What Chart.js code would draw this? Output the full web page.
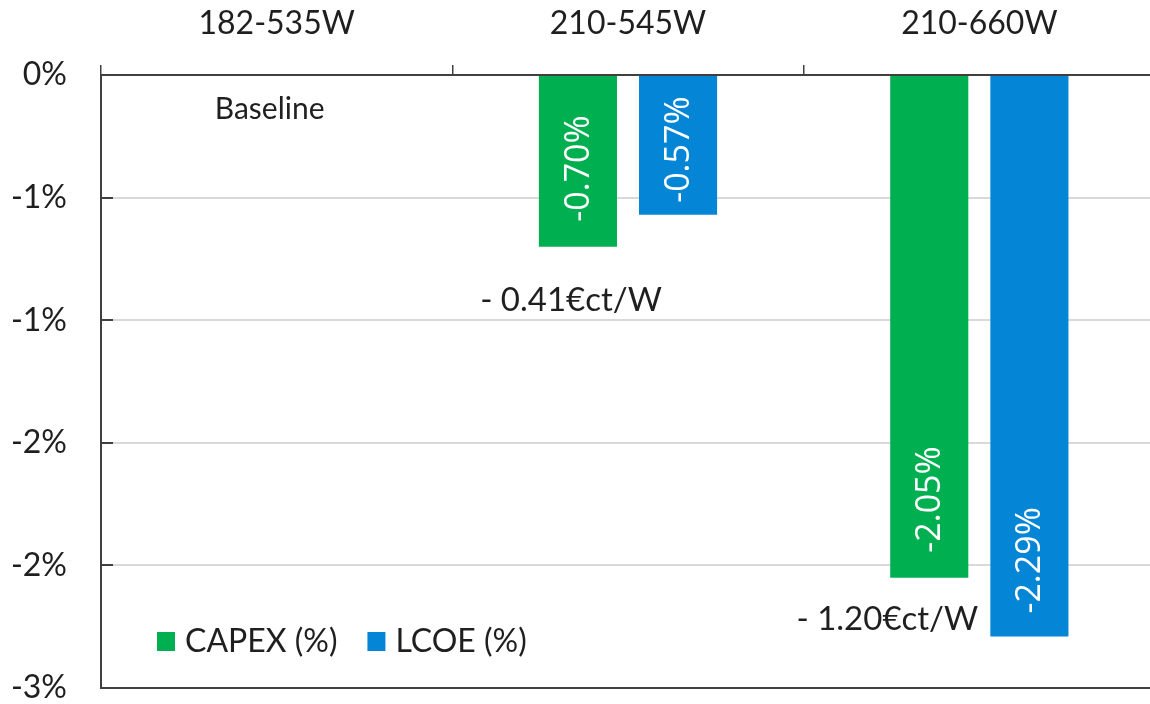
<!DOCTYPE html>
<html>
<head>
<meta charset="utf-8">
<script src="https://cdn.jsdelivr.net/npm/chart.js@4.4.1/dist/chart.umd.min.js"></script>
<style>
  html, body { margin: 0; padding: 0; background: #ffffff; overflow: hidden; }
  #wrap { width: 1156px; height: 704px; position: relative; }
</style>
</head>
<body>
<div id="wrap"><canvas id="c" width="1156" height="704"></canvas></div>
<script>
// Module formats compared against the 182-535W baseline
const categories = ['182-535W', '210-545W', '210-660W'];
const seriesNames = ['CAPEX (%)', 'LCOE (%)'];
const capexPct = [0, -0.70, -2.05];
const lcoePct = [0, -0.57, -2.29];

// Value axis: half-percent steps, labels rounded to whole percent
const yTickValues = [0, -0.5, -1, -1.5, -2, -2.5];
const yTickLabels = ['0%', '-1%', '-1%', '-2%', '-2%', '-3%'];

// Free-standing notes on the plot
const noteTexts = ['Baseline', '- 0.41\u20acct/W', '- 1.20\u20acct/W'];

const GREEN = '#00AF50';
const BLUE = '#0585D6';
const TEXT = '#1f1f1f';
const AXIS = '#404040';
const GRID = '#D9D9D9';
const FONT = 'Lato, Carlito, "Liberation Sans", sans-serif';
const LABEL_FONT = '"Open Sans", "Noto Sans", sans-serif';

// Rotated white value labels placed near the bar ends
const barValueLabels = {
  id: 'barValueLabels',
  afterDatasetsDraw(chart, args, opts) {
    const ctx = chart.ctx;
    chart.data.datasets.forEach((ds, di) => {
      const meta = chart.getDatasetMeta(di);
      meta.data.forEach((bar, i) => {
        const v = ds.data[i];
        if (!v) return;
        const gap = opts.gaps[di][i];
        ctx.save();
        ctx.translate(bar.x, bar.y - gap);
        ctx.rotate(-Math.PI / 2);
        ctx.font = opts.size + 'px ' + LABEL_FONT;
        ctx.fillStyle = '#ffffff';
        ctx.textAlign = 'left';
        ctx.textBaseline = 'middle';
        ctx.fillText(v.toFixed(2) + '%', 0, 1);
        ctx.restore();
      });
    });
  }
};

// Short inward tick marks on the value axis
const innerTicks = {
  id: 'innerTicks',
  afterDraw(chart) {
    const y = chart.scales.y;
    const left = chart.chartArea.left;
    const ctx = chart.ctx;
    ctx.save();
    ctx.strokeStyle = AXIS;
    ctx.lineWidth = 2;
    y.ticks.forEach(t => {
      const py = Math.round(y.getPixelForValue(t.value));
      ctx.beginPath();
      ctx.moveTo(left, py);
      ctx.lineTo(left + 12, py);
      ctx.stroke();
    });
    ctx.restore();
  }
};

// Text notes anchored to a category and a value
const plotNotes = {
  id: 'plotNotes',
  afterDraw(chart, args, opts) {
    const ctx = chart.ctx;
    const xs = chart.scales.x, ys = chart.scales.y;
    ctx.save();
    ctx.fillStyle = TEXT;
    ctx.textAlign = 'center';
    ctx.textBaseline = 'middle';
    opts.items.forEach(n => {
      ctx.font = n.size + 'px ' + FONT;
      ctx.fillText(n.text, xs.getPixelForValue(n.index) + n.dx, ys.getPixelForValue(n.value));
    });
    ctx.restore();
  }
};

// Legend drawn inside the lower left of the plot
const insideLegend = {
  id: 'insideLegend',
  afterDraw(chart, args, opts) {
    const ctx = chart.ctx;
    const area = chart.chartArea;
    let x = area.left + opts.dx;
    const cy = area.bottom - opts.dy;
    ctx.save();
    ctx.font = opts.size + 'px ' + FONT;
    ctx.textBaseline = 'middle';
    ctx.textAlign = 'left';
    chart.data.datasets.forEach(ds => {
      ctx.fillStyle = ds.backgroundColor;
      ctx.fillRect(x, cy - 9, 18, 19);
      x += 28;
      ctx.fillStyle = TEXT;
      ctx.fillText(ds.label, x, cy + 1);
      x += ctx.measureText(ds.label).width + 30;
    });
    ctx.restore();
  }
};

function draw() {
  new Chart(document.getElementById('c'), {
    type: 'bar',
    data: {
      labels: categories,
      datasets: [
        { label: seriesNames[0], data: capexPct, backgroundColor: GREEN },
        { label: seriesNames[1], data: lcoePct, backgroundColor: BLUE }
      ]
    },
    options: {
      responsive: false,
      animation: false,
      devicePixelRatio: 1,
      layout: { padding: { left: 0, right: 1, top: 0, bottom: 16 } },
      categoryPercentage: 0.57,
      barPercentage: 0.78,
      plugins: {
        legend: { display: false },
        tooltip: { enabled: false },
        barValueLabels: { size: 34, gaps: [[0, 25, 25], [0, 12, 23]] },
        insideLegend: { size: 32, dx: 56, dy: 47 },
        plotNotes: {
          items: [
            { text: noteTexts[0], index: 0, value: -0.14, dx: -7, size: 30 },
            { text: noteTexts[1], index: 1, value: -0.92, dx: -57, size: 33 },
            { text: noteTexts[2], index: 2, value: -2.22, dx: -92, size: 33 }
          ]
        }
      },
      scales: {
        x: {
          position: 'top',
          offset: true,
          afterFit(scale) { scale.height = 75; },
          grid: {
            offset: true,
            drawOnChartArea: false,
            drawTicks: true,
            tickLength: 10,
            color: AXIS,
            lineWidth: 1.5
          },
          border: { display: true, color: AXIS, width: 2 },
          ticks: { color: TEXT, font: { family: FONT, size: 32 }, padding: 22 }
        },
        y: {
          min: -2.5,
          max: 0,
          afterFit(scale) { scale.width = 101; },
          afterBuildTicks(scale) { scale.ticks = yTickValues.map(v => ({ value: v })); },
          grid: {
            drawTicks: true,
            tickLength: 34,
            tickColor: 'rgba(0,0,0,0)',
            color: ctx => (ctx.tick && ctx.tick.value === -2.5) ? AXIS : GRID,
            lineWidth: 2
          },
          border: { display: true, color: AXIS, width: 2 },
          ticks: {
            color: TEXT,
            font: { family: FONT, size: 32, lineHeight: 1 },
            padding: 0,
            callback: (v, i) => yTickLabels[i]
          }
        }
      }
    },
    plugins: [barValueLabels, innerTicks, plotNotes, insideLegend]
  });
}

const fontLoads = [
  '32px Lato', '34px "Open Sans"'
].map(f => document.fonts.load(f).catch(() => null));
Promise.all(fontLoads).then(draw, draw);
</script>
</body>
</html>
